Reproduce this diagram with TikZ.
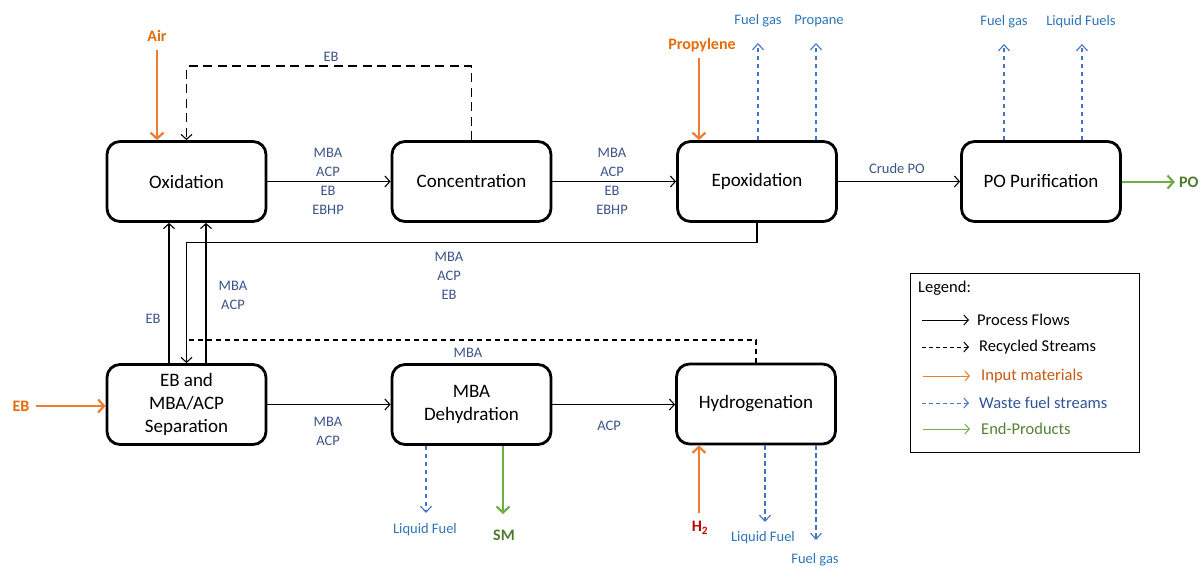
\documentclass[tikz,border=0pt]{standalone}
\usepackage{fontspec}
\setmainfont{Carlito}
\usetikzlibrary{arrows.meta,calc}
\definecolor{inorange}{HTML}{ED7D31}
\definecolor{inlabel}{HTML}{E46C0A}
\definecolor{inlegend}{HTML}{C55A11}
\definecolor{wasteblue}{HTML}{4472C4}
\definecolor{wastelabel}{HTML}{2E75B6}
\definecolor{wastelegend}{HTML}{2F5597}
\definecolor{streamlabel}{HTML}{3C5488}
\definecolor{prodgreen}{HTML}{70AD47}
\definecolor{prodlabel}{HTML}{4E7A2E}
\definecolor{prodlegend}{HTML}{548235}
\definecolor{hred}{HTML}{C00000}
\begin{document}
\begin{tikzpicture}[x=1pt,y=-1pt,
  box/.style={draw, line width=2.8pt, rounded corners=13pt, minimum width=159pt,
    minimum height=80pt, align=center, inner sep=2pt,
    font=\fontsize{19}{23}\selectfont},
  flow/.style={draw, line width=1.1pt,
    -{Straight Barb[length=5pt,width=11pt,line width=1.1pt]}},
  recycle/.style={draw, line width=1.3pt, dash pattern=on 9pt off 5.5pt,
    -{Straight Barb[length=5pt,width=11pt,line width=1.1pt]}},
  recycleb/.style={draw, line width=1.3pt, dash pattern=on 5pt off 4pt},
  inarrow/.style={draw, inorange, line width=2.6pt,
    -{Straight Barb[length=6pt,width=13pt,line width=2.2pt]}},
  outarrow/.style={draw, prodgreen, line width=2.6pt,
    -{Straight Barb[length=6pt,width=13pt,line width=2.2pt]}},
  waste/.style={draw, wasteblue, line width=1.1pt, dash pattern=on 4.5pt off 3.5pt,
    -{Straight Barb[length=6pt,width=11pt,line width=1.1pt]}},
  stream/.style={text=streamlabel, align=center, inner sep=0pt,
    font=\fontsize{14.5}{19}\selectfont},
  wastelab/.style={text=wastelabel, inner sep=0pt, font=\fontsize{14.5}{17}\selectfont},
  inlab/.style={text=inlabel, inner sep=0pt, font=\fontsize{16}{18}\selectfont\bfseries},
  prodlab/.style={text=prodlabel, inner sep=0pt, font=\fontsize{16}{18}\selectfont\bfseries},
  legtext/.style={anchor=west, inner sep=0pt, font=\fontsize{16.5}{19}\selectfont},
  legflow/.style={draw, line width=1pt,
    -{Straight Barb[length=4.5pt,width=10pt,line width=1pt]}},
]
\useasboundingbox (0,0) rectangle (1200,567);

% process boxes
\node[box] (ox)   at (186.5,181.5) {Oxidation};
\node[box] (conc) at (471.5,181.5) {Concentration};
\node[box] (ep)   at (757,181.5)   {Epoxidation};
\node[box] (po)   at (1041,181.5)  {PO Purification};
\node[box] (sep)  at (186.5,404.5) {EB and\\MBA/ACP\\Separation};
\node[box] (dh)   at (471.5,404.5) {MBA\\Dehydration};
\node[box] (hy)   at (756,404)     {Hydrogenation};

% main process flows
\draw[flow] (ox.east) -- (conc.west);
\node[stream] (s1) at (328,181.5) {MBA\\ACP\\EB\\EBHP};
\draw[flow] (conc.east) -- (ep.west);
\node[stream] (s2) at (612,181.5) {MBA\\ACP\\EB\\EBHP};
\draw[flow] (ep.east) -- (po.west);
\node[stream] (s3) at (897,169) {Crude PO};

% EB recycle from concentration
\draw[recycle] (conc.north) -- ++(0,-74) -| (ox.north);
\node[stream] (s4) at (331,57) {EB};

% epoxidation bottom stream to separation
\draw[flow] (ep.south) -- ++(0,20) -| (sep.north);
\node[stream] (s5) at (449,276) {MBA\\ACP\\EB};

% MBA recycle from hydrogenation
\coordinate (mbaj) at (187,340);
\draw[recycleb] (hy.north) |- (mbaj);
\node[stream] (s6) at (468,353) {MBA};

% separation to oxidation
\draw[flow] ([xshift=-17.5pt]sep.north) -- ([xshift=-17.5pt]ox.south);
\draw[flow] ([xshift=19.5pt]sep.north) -- ([xshift=19.5pt]ox.south);
\node[stream] (s7) at (153,319) {EB};
\node[stream] (s8) at (233,295) {MBA\\ACP};

% bottom row flows
\draw[flow] (sep.east) -- (sep.east -| dh.west);
\node[stream] (s9) at (328,431) {MBA\\ACP};
\draw[flow] (dh.east) -- (dh.east -| hy.west);
\node[stream] (s10) at (609,426) {ACP};

% inputs
\node[inlab] (air) at (157,36) {Air};
\draw[inarrow] (157,50) -- (ox.north -| air);
\node[inlab] (prop) at (702,45) {Propylene};
\draw[inarrow] (699,58) -- (ep.north -| 699,0);
\node[inlab] (ebin) at (21,406) {EB};
\draw[inarrow] ([xshift=6pt]ebin.east) -- (sep.west |- ebin);
\node[text=hred, inner sep=0pt, font=\fontsize{16}{18}\selectfont\bfseries] (h2) at (700,528) {H\textsubscript{2}};
\draw[inarrow] (699,513) -- (hy.south -| 699,0);

% products
\node[prodlab, anchor=west] (pol) at (1179,182) {PO};
\draw[outarrow] (po.east |- pol) -- ([xshift=-4pt]pol.west);
\node[prodlab] (sm) at (504,535) {SM};
\draw[outarrow] (dh.south -| 503,0) -- (503,514);

% waste streams
\node[wastelab] (w1) at (758,21) {Fuel gas};
\node[wastelab] (w2) at (819,21) {Propane};
\draw[waste] (ep.north -| 758,0) -- (758,43);
\draw[waste] (ep.north -| 816,0) -- (816,43);
\node[wastelab] (w3) at (1004,22) {Fuel gas};
\node[wastelab] (w4) at (1081,22) {Liquid Fuels};
\draw[waste] (po.north -| 1004,0) -- (1004,44);
\draw[waste] (po.north -| 1082,0) -- (1082,44);
\node[wastelab] (w5) at (425,530) {Liquid Fuel};
\draw[waste] (dh.south -| 426,0) -- (426,513);
\node[wastelab] (w6) at (763,538) {Liquid Fuel};
\draw[waste] (hy.south -| 765,0) -- (765,522);
\node[wastelab] (w7) at (815,560) {Fuel gas};
\draw[waste] (hy.south -| 816,0) -- (816,540);

% legend
\node[draw, line width=1pt, minimum width=229pt, minimum height=179pt, inner sep=0pt] (leg) at (1024.5,362.5) {};
\node[legtext] (lg0) at (918,288) {Legend:};
\node[legtext] (lg1) at (977,320) {Process Flows};
\node[legtext] (lg2) at (979,347) {Recycled Streams};
\node[legtext, text=inlegend] (lg3) at (981,376) {Input materials};
\node[legtext, text=wastelegend] (lg4) at (979,403) {Waste fuel streams};
\node[legtext, text=prodlegend] (lg5) at (981,429) {End-Products};
\coordinate (la1) at (922,320);
\coordinate (la2) at (922,347);
\coordinate (la3) at (923,376);
\coordinate (la4) at (922,403);
\coordinate (la5) at (923,429);
\draw[legflow] (la1) -- ([xshift=-8pt]lg1.west |- la1);
\draw[legflow, dash pattern=on 4pt off 3pt] (la2) -- ([xshift=-10pt]lg2.west |- la2);
\draw[legflow, inorange] (la3) -- ([xshift=-11pt]lg3.west |- la3);
\draw[legflow, wasteblue, dash pattern=on 4pt off 3pt] (la4) -- ([xshift=-10pt]lg4.west |- la4);
\draw[legflow, prodgreen] (la5) -- ([xshift=-11pt]lg5.west |- la5);
\end{tikzpicture}
\end{document}
